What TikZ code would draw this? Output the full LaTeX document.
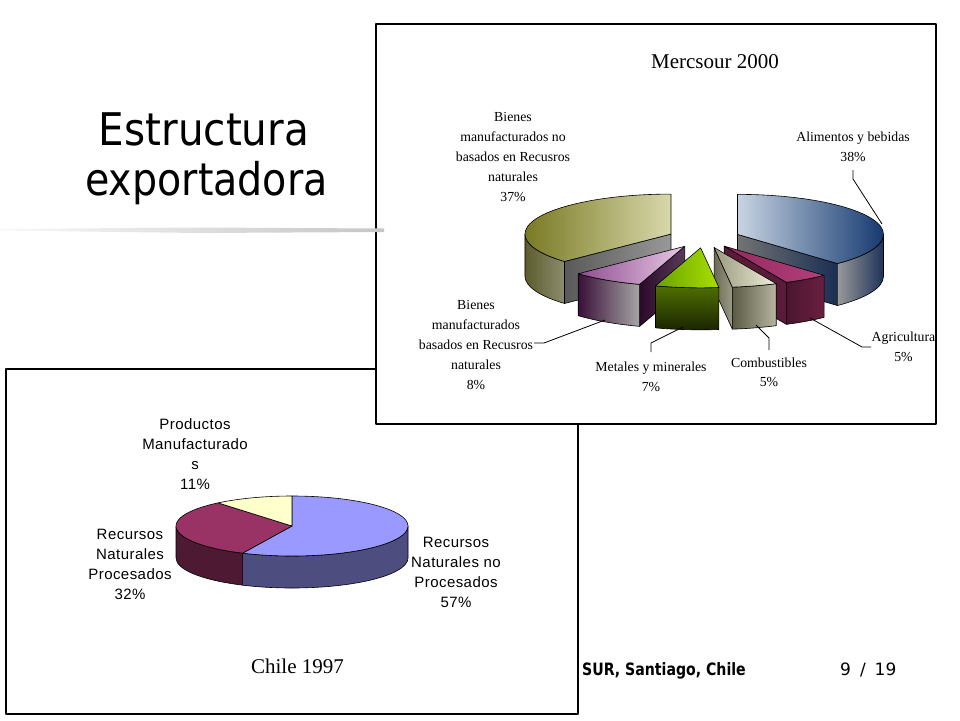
\documentclass[tikz,border=0pt]{standalone}
\usepackage{fontspec}
\setmainfont{Liberation Serif}
\setsansfont{Liberation Sans}
\newfontfamily\titlefont{DejaVu Sans}
\newfontfamily\chfont[LetterSpace=3]{Liberation Sans}
\usetikzlibrary{calc}
\definecolor{chBlue}{HTML}{9999FF}
\definecolor{chBlueSide}{HTML}{4D4D80}
\definecolor{chRed}{HTML}{993366}
\definecolor{chRedSide}{HTML}{4D1933}
\definecolor{chYel}{HTML}{FFFFCC}
\newcommand\MTop[3]{\path[#1] (704,-238) -- ([shift={(#2:146pt and 40pt)}]704,-238) arc[start angle=#2,end angle=#3,x radius=146pt,y radius=40pt] -- cycle;}
\newcommand\MWall[3]{\path[#1] ([shift={(#2:146pt and 40pt)}]704,-238) arc[start angle=#2,end angle=#3,x radius=146pt,y radius=40pt] -- ([shift={(#3:146pt and 40pt)}]704,-280) arc[start angle=#3,end angle=#2,x radius=146pt,y radius=40pt] -- cycle;}
\newcommand\MFace[2]{\path[#1] (704,-238) -- ([shift={(#2:146pt and 40pt)}]704,-238) -- ([shift={(#2:146pt and 40pt)}]704,-280) -- (704,-280) -- cycle;}
\tikzset{
  box/.style={draw=black, line width=1.3pt, fill=white},
  sl/.style={draw=black, line width=0.6pt},
  mlab/.style={font=\fontsize{13.8}{20}\selectfont, inner sep=0, anchor=base},
  clab/.style={font=\chfont\fontsize{15}{20}\selectfont, inner sep=0, anchor=base},
  ctitle/.style={font=\fontsize{21}{24}\selectfont, inner sep=0, anchor=base},
  titletxt/.style={font=\titlefont\fontsize{45}{50}\selectfont, inner sep=0, anchor=base},
  foot/.style={font=\titlefont\fontsize{17}{20}\selectfont, inner sep=0, anchor=base west},
  leader/.style={draw=black, line width=0.8pt},
}
\begin{document}
\begin{tikzpicture}[x=1pt,y=1pt,line join=round]
\useasboundingbox (0,0) rectangle (960,-720);
\fill[white] (0,0) rectangle (960,-720);

% ---------- title ----------
\node[titletxt] (t1) at (204,-145) {\scalebox{0.9}[1]{Estructura}};
\node[titletxt] (t2) at (206.5,-195) {\scalebox{0.88}[1]{exportadora}};

% ---------- Chile box ----------
\draw[box] (6,-369) rectangle (578,-714);
\coordinate (cc) at (292,-526);
% side walls
\path[sl, fill=chBlueSide] ($(cc)+(0:116pt and 30pt)$) arc[start angle=0,end angle=-115.2,x radius=116pt,y radius=30pt] -- ++(0,-32) arc[start angle=-115.2,end angle=0,x radius=116pt,y radius=30pt] -- cycle;
\path[sl, fill=chRedSide] ($(cc)+(-115.2:116pt and 30pt)$) arc[start angle=-115.2,end angle=-180,x radius=116pt,y radius=30pt] -- ++(0,-32) arc[start angle=-180,end angle=-115.2,x radius=116pt,y radius=30pt] -- cycle;
% tops
\path[sl, fill=chBlue] (cc) -- ($(cc)+(90:116pt and 30pt)$) arc[start angle=90,end angle=-115.2,x radius=116pt,y radius=30pt] -- cycle;
\path[sl, fill=chRed] (cc) -- ($(cc)+(-115.2:116pt and 30pt)$) arc[start angle=-115.2,end angle=-230.4,x radius=116pt,y radius=30pt] -- cycle;
\path[sl, fill=chYel] (cc) -- ($(cc)+(-230.4:116pt and 30pt)$) arc[start angle=-230.4,end angle=-270,x radius=116pt,y radius=30pt] -- cycle;
% labels
\node[clab] (cp1) at (195,-429) {Productos};
\node[clab] (cp2) at (195,-449) {Manufacturado};
\node[clab] (cp3) at (195,-469) {s};
\node[clab] (cp4) at (195,-489) {11\%};
\node[clab] (cr1) at (130,-539) {Recursos};
\node[clab] (cr2) at (130,-559) {Naturales};
\node[clab] (cr3) at (130,-579) {Procesados};
\node[clab] (cr4) at (130,-599) {32\%};
\node[clab] (cn1) at (456,-547) {Recursos};
\node[clab] (cn2) at (456,-567) {Naturales no};
\node[clab] (cn3) at (456,-587) {Procesados};
\node[clab] (cn4) at (456,-607) {57\%};
\node[ctitle] (ct) at (297.5,-673) {Chile 1997};

% ---------- Mercosur box ----------
\draw[box] (376,-24) rectangle (936,-424);
\node[ctitle] (mt) at (715,-68) {Mercsour 2000};

% 37% slice
\begin{scope}[shift={(156.6:36pt and 9.86pt)}]
\MWall{sl, left color={rgb,255:red,92;green,92;blue,44}, right color={rgb,255:red,140;green,140;blue,112}}{180}{223.2}
\MFace{sl, left color=black!65, right color=black!40}{223.2}
\MTop{sl, left color={rgb,255:red,122;green,122;blue,36}, right color={rgb,255:red,216;green,216;blue,172}}{90}{223.2}
\end{scope}
% 38% slice
\begin{scope}[shift={(21.6:36pt and 9.86pt)}]
\MFace{sl, left color=black!55, right color={rgb,255:red,26;green,47;blue,85}}{-46.8}
\MWall{sl, left color=black!40, right color={rgb,255:red,30;green,50;blue,90}}{0}{-46.8}
\MTop{sl, left color={rgb,255:red,200;green,212;blue,226}, right color={rgb,255:red,22;green,58;blue,112}}{90}{-46.8}
\end{scope}
% Agricultura
\begin{scope}[shift={(-55.8:36pt and 9.86pt)}]
\MFace{sl, fill={rgb,255:red,91;green,26;blue,58}}{-64.8}
\MWall{sl, left color={rgb,255:red,74;green,21;blue,48}, right color={rgb,255:red,106;green,32;blue,64}}{-46.8}{-64.8}
\MTop{sl, left color={rgb,255:red,150;green,40;blue,95}, right color={rgb,255:red,176;green,64;blue,122}}{-46.8}{-64.8}
\end{scope}
% Bienes basados en RN
\begin{scope}[shift={(-122.4:36pt and 9.86pt)}]
\MFace{sl, left color={rgb,255:red,42;green,10;blue,40}, right color={rgb,255:red,90;green,58;blue,90}}{-108}
\MWall{sl, left color={rgb,255:red,58;green,16;blue,56}, right color=black!35}{-108}{-136.8}
\MTop{sl, left color={rgb,255:red,142;green,78;blue,142}, right color={rgb,255:red,232;green,200;blue,232}}{-108}{-136.8}
\end{scope}
% Combustibles
\begin{scope}[shift={(-73.8:36pt and 9.86pt)}]
\MFace{sl, left color={rgb,255:red,106;green,106;blue,85}, right color={rgb,255:red,154;green,154;blue,133}}{-82.8}
\MWall{sl, left color={rgb,255:red,90;green,90;blue,69}, right color={rgb,255:red,181;green,181;blue,160}}{-64.8}{-82.8}
\MTop{sl, left color={rgb,255:red,154;green,154;blue,128}, right color={rgb,255:red,239;green,239;blue,216}}{-64.8}{-82.8}
\end{scope}
% Metales
\begin{scope}[shift={(-95.4:36pt and 9.86pt)}]
\MWall{sl, top color={rgb,255:red,79;green,111;blue,0}, bottom color={rgb,255:red,26;green,36;blue,0}}{-82.8}{-108}
\MTop{sl, left color={rgb,255:red,106;green,160;blue,0}, right color={rgb,255:red,168;green,224;blue,0}}{-82.8}{-108}
\end{scope}

% labels
\node[mlab] (b1) at (513,-121) {Bienes};
\node[mlab] (b2) at (513,-141) {manufacturados no};
\node[mlab] (b3) at (513,-161) {basados en Recusros};
\node[mlab] (b4) at (513,-181) {naturales};
\node[mlab] (b5) at (513,-201) {37\%};
\node[mlab] (a1) at (853,-141) {Alimentos y bebidas};
\node[mlab] (a2) at (853,-161) {38\%};
\node[mlab] (g1) at (903.5,-341) {Agricultura};
\node[mlab] (g2) at (903.5,-361) {5\%};
\node[mlab] (k1) at (769,-367) {Combustibles};
\node[mlab] (k2) at (769,-386) {5\%};
\node[mlab] (m1) at (651,-371) {Metales y minerales};
\node[mlab] (m2) at (651,-391) {7\%};
\node[mlab] (r1) at (476,-309.5) {Bienes};
\node[mlab] (r2) at (476,-329.5) {manufacturados};
\node[mlab] (r3) at (476,-349.5) {basados en Recusros};
\node[mlab] (r4) at (476,-369.5) {naturales};
\node[mlab] (r5) at (476,-389.5) {8\%};

% leaders
\coordinate (la1) at (853,-170); \coordinate (la2) at (853,-179); \coordinate (la3) at (882,-224);
\draw[leader] (la1) -- (la2) -- (la3);
\coordinate (lg1) at (810,-318); \coordinate (lg2) at (862,-347); \coordinate (lg3) at (871,-347);
\draw[leader] (lg1) -- (lg2) -- (lg3);
\coordinate (lk1) at (756,-325); \coordinate (lk2) at (769,-338); \coordinate (lk3) at (769,-350);
\draw[leader] (lk1) -- (lk2) -- (lk3);
\coordinate (lm1) at (683,-327); \coordinate (lm2) at (651,-343); \coordinate (lm3) at (651,-352);
\draw[leader] (lm1) -- (lm2) -- (lm3);
\coordinate (lr1) at (605,-320); \coordinate (lr2) at (544,-343); \coordinate (lr3) at (534,-343);
\draw[leader] (lr1) -- (lr2) -- (lr3);

% title underline bar
\shade[left color=gray!5, middle color=gray!55, right color=gray!45] (0,-229) -- (200,-227.5) -- (384,-228.5) -- (384,-232) -- (200,-233) -- (0,-230.5) -- cycle;

% footer
\node[foot] (f1) at (582,-675) {\scalebox{0.83}[1]{\bfseries SUR, Santiago, Chile}};
\node[foot] (f2) at (840,-675) {9\hspace{9pt}/\hspace{9pt}19};
\end{tikzpicture}
\end{document}
